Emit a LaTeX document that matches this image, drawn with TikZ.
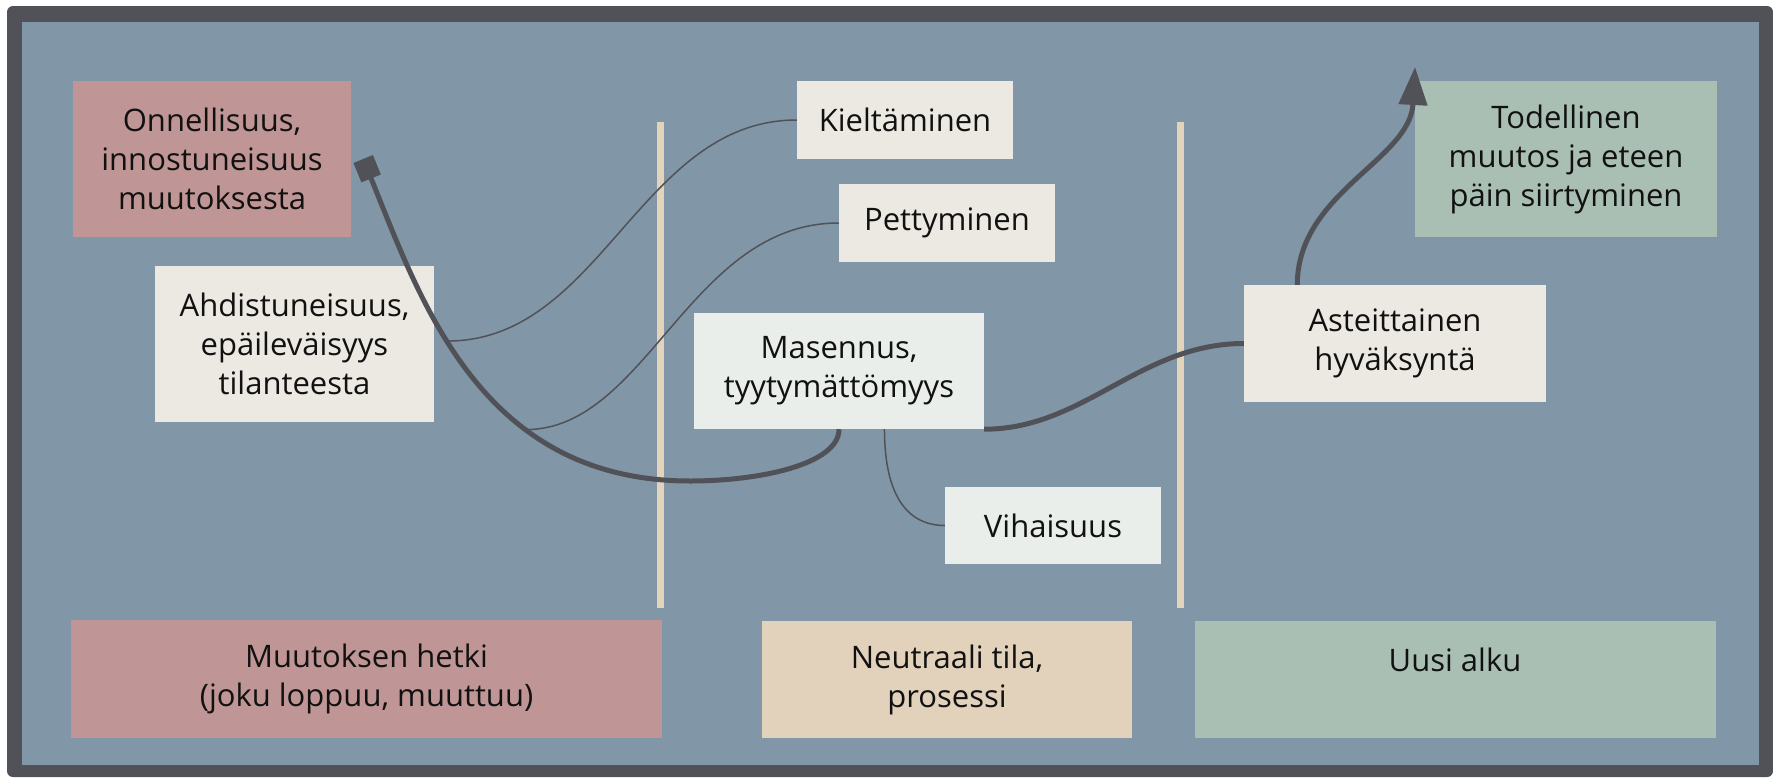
\documentclass[tikz,border=0pt]{standalone}
\usepackage{fontspec}
\setmainfont{Open Sans}
\usepackage{xcolor}
\usepackage{tikz}
\usetikzlibrary{shapes,arrows,arrows.meta}

\definecolor{tausta}{HTML}{8196A6}
\definecolor{kehys}{HTML}{515257}
\definecolor{pinkki}{HTML}{BF9695}
\definecolor{kerma}{HTML}{ECE9E2}
\definecolor{vaalea}{HTML}{EAEEEA}
\definecolor{vihrea}{HTML}{A9BFB3}
\definecolor{hiekka}{HTML}{E2D1BB}
\definecolor{raja}{HTML}{E3D3BA}
\definecolor{viiva}{HTML}{515257}
\definecolor{teksti}{HTML}{111111}

\begin{document}
\begin{tikzpicture}[x=1pt, y=-1pt,
	laatikko/.style={rectangle, inner sep=0pt, align=center, text=teksti, font=\fontsize{31}{39}\selectfont},
	ohut/.style={draw=viiva, line width=1.5pt},
	paksu/.style={draw=viiva, line width=5pt}]

		\useasboundingbox (0,0) rectangle (1773,777);
		\fill[white] (0,0) rectangle (1773,777);
		\fill[kehys, rounded corners=6pt] (7,6) rectangle (1773,777);
		\fill[tausta] (22,22) rectangle (1759,765);
		\fill[raja] (656.5,122) rectangle (663.5,608);
		\fill[raja] (1176.5,122) rectangle (1183.5,608);

		\node (on)[laatikko, fill = pinkki, minimum width = 278pt, minimum height = 156pt] at (212,159) {Onnellisuus,\\innostuneisuus\\muutoksesta};
		\node (ah)[laatikko, fill = kerma, minimum width = 279pt, minimum height = 156pt] at (294.5,344) {Ahdistuneisuus,\\epäileväisyys\\tilanteesta};
		\node (ki)[laatikko, fill = kerma, minimum width = 216pt, minimum height = 78pt] at (905,120) {Kieltäminen};
		\node (pe)[laatikko, fill = kerma, minimum width = 216pt, minimum height = 78pt] at (947,223) {Pettyminen};
		\node (ma)[laatikko, fill = vaalea, minimum width = 290pt, minimum height = 116pt] at (839,371) {Masennus,\\tyytymättömyys};
		\node (vi)[laatikko, fill = vaalea, minimum width = 216pt, minimum height = 77pt] at (1053,525.5) {Vihaisuus};
		\node (as)[laatikko, fill = kerma, minimum width = 302pt, minimum height = 117pt] at (1395,343.5) {Asteittainen\\hyväksyntä};
		\node (to)[laatikko, fill = vihrea, minimum width = 302pt, minimum height = 156pt] at (1566,159) {Todellinen\\muutos ja eteen\\päin siirtyminen};

		\node (mh)[laatikko, fill = pinkki, minimum width = 591pt, minimum height = 118pt] at (366.5,679) {Muutoksen hetki\\(joku loppuu, muuttuu)};
		\node (nt)[laatikko, fill = hiekka, minimum width = 370pt, minimum height = 117pt] at (947,679.5) {Neutraali tila,\\prosessi};
		\node (ua)[laatikko, fill = vihrea, minimum width = 521pt, minimum height = 117pt] at (1455,679.5) {Uusi alku\\\mbox{}};

		\coordinate (pohja) at (690,481);
		\coordinate (karki) at (1415,67);

		\draw[paksu, -{Square[length=21pt, width=21pt]}] (ma.south) .. controls +(0,35) and +(70,0) .. (pohja) .. controls +(-210,0) and +(57,140) .. ([xshift=12pt]on.east) coordinate[pos=0.58] (c1) coordinate[pos=0.33] (c2);
		\draw[paksu] (ma.south east) .. controls +(100,0) and +(-104,0) .. (as.west);
		\draw[paksu, -{Triangle[length=38pt, width=28pt]}] (as.149) .. controls +(0,-92) and (1410,160) .. (karki);

		\draw[ohut] (c1) .. controls +(154,0) and +(-157,0) .. (ki.west);
		\draw[ohut] (c2) .. controls +(121,0) and +(-149,0) .. (pe.west);
		\draw[ohut] (ma.308) .. controls +(0,70) and +(-35,0) .. (vi.west);

\end{tikzpicture}
\end{document}
